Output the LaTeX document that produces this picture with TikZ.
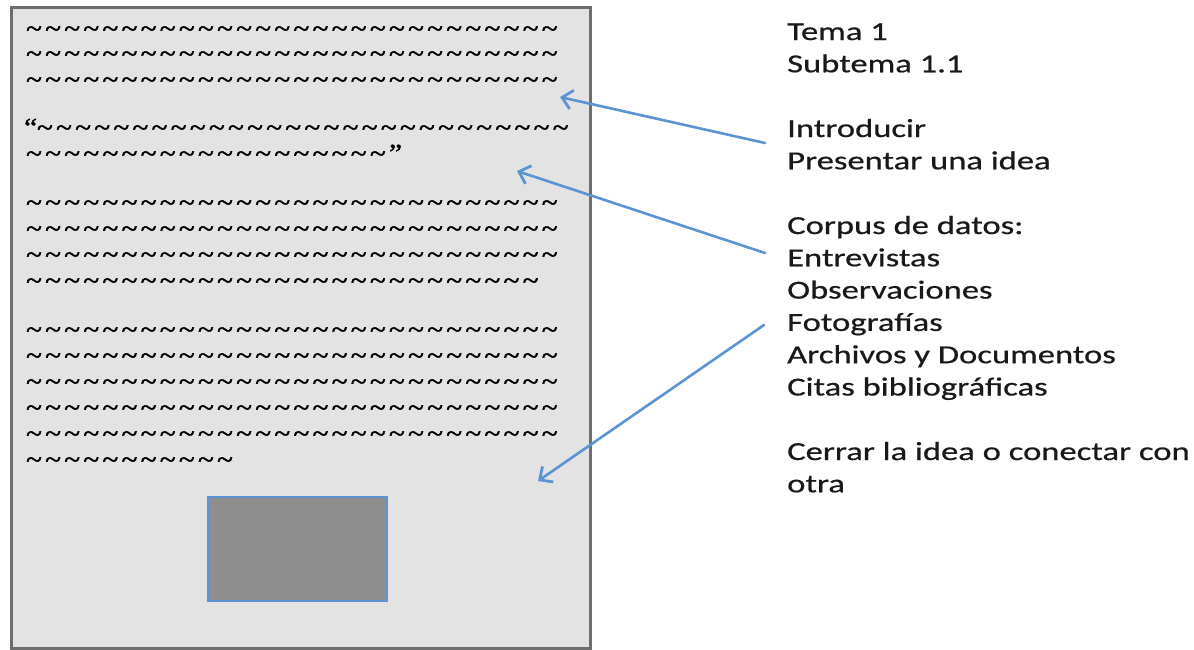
\documentclass[tikz,border=0pt]{standalone}
\usepackage{fontspec}
\setmainfont{Carlito}[FakeStretch=1.33, FakeBold=0.6]
\newfontfamily\tildefont{Liberation Serif}[FakeStretch=1.12, FakeBold=1.8]
\usetikzlibrary{arrows.meta}
\definecolor{pagefill}{HTML}{E3E3E3}
\definecolor{pageline}{HTML}{6E6E6E}
\definecolor{boxfill}{HTML}{8E8E8E}
\definecolor{arrowblue}{HTML}{5B93D3}
\newcommand\tld[1]{\foreach\k in {1,...,#1}{\makebox[19.1pt][l]{\textasciitilde}}}
\tikzset{
  tline/.style={anchor=base west, inner sep=0pt, font=\tildefont\fontsize{26pt}{26pt}\selectfont},
  label/.style={anchor=base west, inner sep=0pt, text=black!90, font=\fontsize{26pt}{32pt}\selectfont},
  pointer/.style={draw=arrowblue, line width=2.6pt, line cap=round,
    -{Straight Barb[length=10pt, width=19pt, line width=2.8pt]}}
}
\begin{document}
\begin{tikzpicture}[x=1pt,y=-1pt]
\useasboundingbox (0,0) rectangle (1194,649);
% page
\node[draw=pageline, fill=pagefill, line width=2.6pt, minimum width=579pt, minimum height=641pt, inner sep=0pt, anchor=north west] (page) at (10,6) {};
% tilde text
\node[tline] (r1) at (26,37) {\tld{28}};
\node[tline] (r2) at (26,62) {\tld{28}};
\node[tline] (r3) at (26,88) {\tld{28}};
\node[tline] (q1) at (24,136) {“\tld{28}};
\node[tline] (q2) at (26,162) {\tld{19}”};
\node[tline] (r4) at (26,211) {\tld{28}};
\node[tline] (r5) at (26,237) {\tld{28}};
\node[tline] (r6) at (26,263) {\tld{28}};
\node[tline] (r7) at (26,289) {\tld{27}};
\node[tline] (r8) at (26,338) {\tld{28}};
\node[tline] (r9) at (26,364) {\tld{28}};
\node[tline] (r10) at (26,390) {\tld{28}};
\node[tline] (r11) at (26,416) {\tld{28}};
\node[tline] (r12) at (26,442) {\tld{28}};
\node[tline] (r13) at (26,468) {\tld{11}};
% image placeholder
\node[draw=arrowblue, fill=boxfill, line width=2pt, minimum width=179pt, minimum height=104pt, inner sep=0pt, anchor=north west] (img) at (207,496) {};
% right labels
\node[label] (t1) at (787,40) {Tema 1};
\node[label] (t2) at (787,72.3) {Subtema 1.1};
\node[label] (t3) at (787,137) {Introducir};
\node[label] (t4) at (787,169.3) {Presentar una idea};
\node[label] (t5) at (787,234) {Corpus de datos:};
\node[label] (t6) at (787,266.3) {Entrevistas};
\node[label] (t7) at (787,298.6) {Observaciones};
\node[label] (t8) at (787,330.9) {Fotografías};
\node[label] (t9) at (787,363.2) {Archivos y Documentos};
\node[label] (t10) at (787,395.5) {Citas bibliográficas};
\node[label] (t11) at (787,460) {Cerrar la idea o conectar con};
\node[label] (t12) at (787,492.3) {otra};
% arrows
\coordinate (a1s) at (765,143);
\coordinate (a1e) at (560,97);
\coordinate (a2s) at (765,253);
\coordinate (a2e) at (517,171);
\coordinate (a3s) at (764,325);
\coordinate (a3e) at (538,481);
\draw[pointer] (a1s) -- (a1e);
\draw[pointer] (a2s) -- (a2e);
\draw[pointer] (a3s) -- (a3e);
\end{tikzpicture}
\end{document}
